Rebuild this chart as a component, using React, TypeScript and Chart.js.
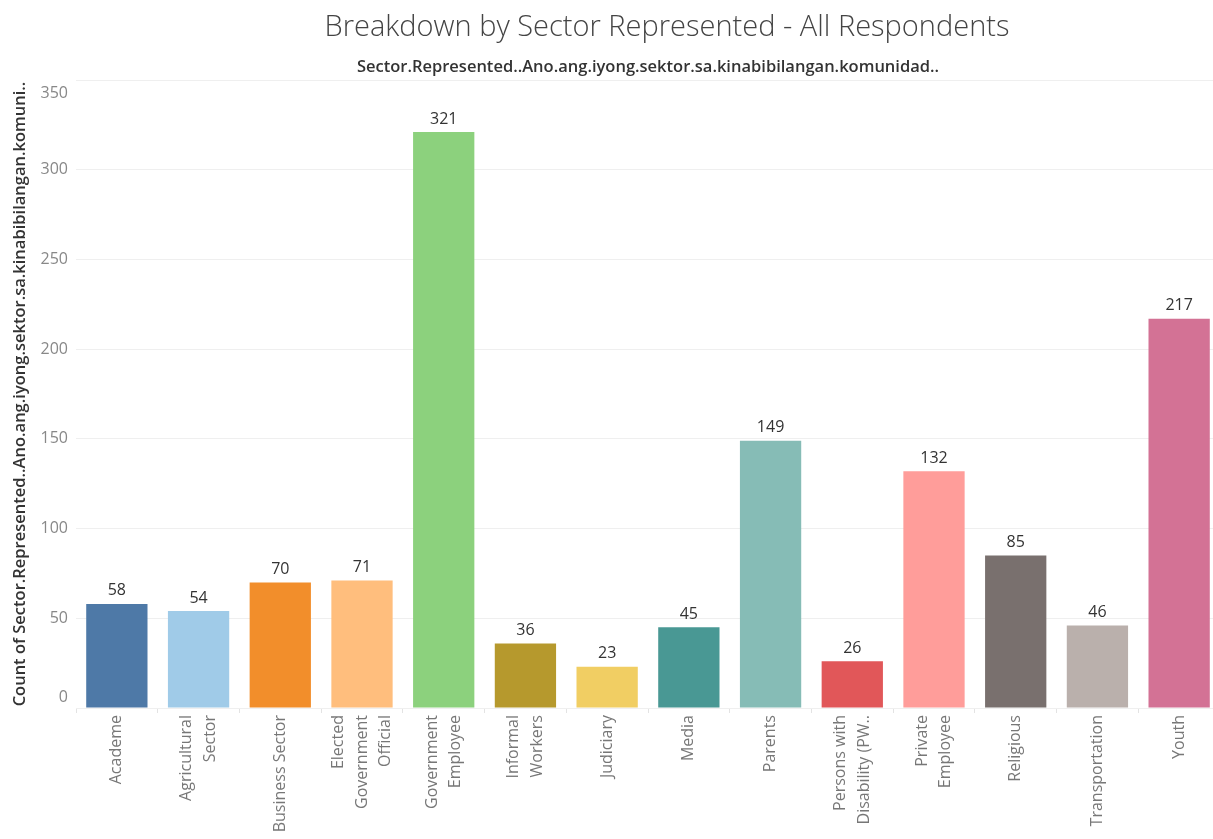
import React, { useEffect, useRef } from "react";
import { Chart, registerables } from "chart.js";

Chart.register(...registerables);

const TITLE = "Breakdown by Sector Represented - All Respondents";
const SUBTITLE = "Sector.Represented..Ano.ang.iyong.sektor.sa.kinabibilangan.komunidad..";
const Y_TITLE = "Count of Sector.Represented..Ano.ang.iyong.sektor.sa.kinabibilangan.komuni..";

const categories: (string | string[])[] = [
  "Academe",
  ["Agricultural", "Sector"],
  "Business Sector",
  ["Elected", "Government", "Official"],
  ["Government", "Employee"],
  ["Informal", "Workers"],
  "Judiciary",
  "Media",
  "Parents",
  ["Persons with", "Disability (PW.."],
  ["Private", "Employee"],
  "Religious",
  "Transportation",
  "Youth",
];

const counts = [58, 54, 70, 71, 321, 36, 23, 45, 149, 26, 132, 85, 46, 217];

const barColors = [
  "#4E79A7", "#A0CBE8", "#F28E2B", "#FFBE7D", "#8CD17D", "#B6992D", "#F1CE63",
  "#499894", "#86BCB6", "#E15759", "#FF9D9A", "#79706E", "#BAB0AC", "#D37295",
];

const yTicks = [0, 50, 100, 150, 200, 250, 300, 350];

const FONT = '"Open Sans", "Noto Sans", sans-serif';

const textPlugin = {
  id: "texts",
  afterDraw(chart: any) {
    const { ctx, chartArea } = chart;
    const xScale = chart.scales.x;
    const yScale = chart.scales.y;
    ctx.save();

    // Title
    ctx.fillStyle = "#444";
    ctx.textAlign = "center";
    ctx.textBaseline = "middle";
    ctx.font = `300 29px ${FONT}`;
    ctx.fillText(TITLE, 667, 28);

    // Subtitle (column header)
    ctx.fillStyle = "#333";
    ctx.font = `600 16.5px ${FONT}`;
    ctx.fillText(SUBTITLE, (chartArea.left + chartArea.right) / 2, 67);

    // Y axis title
    ctx.save();
    ctx.translate(20, (chartArea.top + chartArea.bottom) / 2);
    ctx.rotate(-Math.PI / 2);
    ctx.textAlign = "center";
    ctx.textBaseline = "middle";
    ctx.font = `600 16.5px ${FONT}`;
    ctx.fillText(Y_TITLE, 0, 0);
    ctx.restore();

    // Y tick labels (kept inside the axis range like the original)
    ctx.fillStyle = "#888";
    ctx.font = `16px ${FONT}`;
    ctx.textAlign = "right";
    ctx.textBaseline = "middle";
    yTicks.forEach((v) => {
      let y = yScale.getPixelForValue(v);
      if (y - 8 < chartArea.top) y = chartArea.top + 13;
      if (y + 8 > chartArea.bottom) y = chartArea.bottom - 11;
      ctx.fillText(String(v), chartArea.left - 8, y);
    });

    // X tick labels, rotated, multi-line centred on the tick
    ctx.fillStyle = "#777";
    ctx.font = `16px ${FONT}`;
    const lineStep = 23.5;
    categories.forEach((lab, i) => {
      const lines = Array.isArray(lab) ? lab : [lab];
      const x = xScale.getPixelForTick(i);
      ctx.save();
      ctx.translate(x, chartArea.bottom + 7);
      ctx.rotate(-Math.PI / 2);
      ctx.textAlign = "right";
      ctx.textBaseline = "middle";
      lines.forEach((ln, j) => {
        ctx.fillText(ln, 0, (j - (lines.length - 1) / 2) * lineStep);
      });
      ctx.restore();
    });

    ctx.restore();
  },
};

const valueLabelPlugin = {
  id: "valueLabels",
  afterDatasetsDraw(chart: any) {
    const { ctx } = chart;
    const meta = chart.getDatasetMeta(0);
    const data = chart.data.datasets[0].data;
    ctx.save();
    ctx.fillStyle = "#333";
    ctx.font = `16px ${FONT}`;
    ctx.textAlign = "center";
    ctx.textBaseline = "bottom";
    meta.data.forEach((el: any, i: number) => {
      ctx.fillText(String(data[i]), el.x, el.y - 5);
    });
    ctx.restore();
  },
};

export default function App() {
  const ref = useRef<HTMLCanvasElement | null>(null);

  useEffect(() => {
    if (!ref.current) return;
    const chart = new Chart(ref.current, {
      type: "bar",
      data: {
        labels: categories,
        datasets: [
          {
            data: counts,
            backgroundColor: barColors,
            borderWidth: 0,
            barPercentage: 0.75,
            categoryPercentage: 1,
          },
        ],
      },
      options: {
        responsive: false,
        animation: false,
        devicePixelRatio: 1,
        layout: { padding: { top: 80, right: 5, left: 0, bottom: 0 } },
        plugins: {
          legend: { display: false },
          title: { display: false },
          tooltip: { enabled: false },
        },
        scales: {
          x: {
            offset: true,
            grid: {
              offset: true,
              drawOnChartArea: false,
              drawTicks: true,
              tickLength: 5,
              color: "#e3e3e3",
            },
            border: { display: false },
            ticks: { display: false, autoSkip: false },
            afterFit(scale: any) {
              scale.height = 131;
            },
          },
          y: {
            min: 0,
            max: 350,
            afterBuildTicks(scale: any) {
              scale.ticks = yTicks.map((v) => ({ value: v }));
            },
            grid: { color: "#efefef", drawTicks: false },
            border: { display: false },
            ticks: { display: false },
            afterFit(scale: any) {
              scale.width = 76;
            },
          },
        },
      },
      plugins: [textPlugin, valueLabelPlugin],
    } as any);
    return () => chart.destroy();
  }, []);

  return (
    <div
      style={{
        position: "fixed",
        left: 0,
        top: 0,
        width: 1213,
        height: 839,
        overflow: "hidden",
        background: "#fff",
      }}
    >
      <canvas ref={ref} width={1225} height={839} />
    </div>
  );
}
